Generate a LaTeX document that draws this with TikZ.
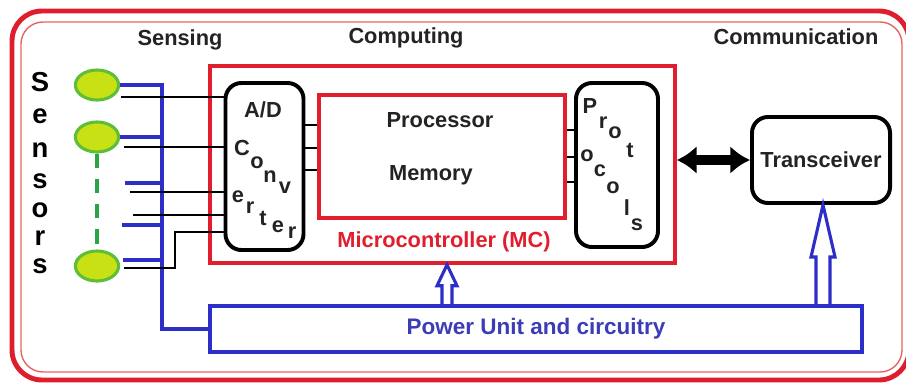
\documentclass[tikz,border=0pt]{standalone}
\usepackage{fontspec}
\setmainfont{Liberation Sans}
\usetikzlibrary{arrows.meta, positioning, shapes.geometric, calc}
\definecolor{framered}{RGB}{222,30,45}
\definecolor{thinred}{RGB}{232,100,100}
\definecolor{mcred}{RGB}{225,30,45}
\definecolor{pwrblue}{RGB}{45,45,200}
\definecolor{txtblue}{RGB}{60,60,185}
\definecolor{sensfill}{RGB}{200,225,20}
\definecolor{sensedge}{RGB}{95,190,55}
\definecolor{dashgreen}{RGB}{40,165,70}
\definecolor{ink}{RGB}{35,35,35}

% hollow power arrow: from, tip, shaft half width, head half width, head length
\newcommand{\feedarrow}[5]{%
  \draw[feed] ($(#1)+(-#3,0)$) -- ($(#2)+(-#3,#5)$) -- ($(#2)+(-#4,#5)$)
    -- (#2) -- ($(#2)+(#4,#5)$) -- ($(#2)+(#3,#5)$) -- ($(#1)+(#3,0)$);}

\begin{document}
\begin{tikzpicture}[
    x=0.025cm, y=-0.025cm,
    lbl/.style={font=\fontsize{15.5}{18}\selectfont\bfseries, text=ink, inner sep=0pt},
    bigletter/.style={font=\fontsize{19.5}{22}\selectfont\bfseries, text=black, inner sep=0pt},
    mcbox/.style={rectangle, draw=mcred, line width=2.5pt},
    rbox/.style={rectangle, draw=black, line width=2.8pt, rounded corners=0.4cm},
    pwrbox/.style={rectangle, draw=pwrblue, line width=2.6pt},
    sensor/.style={ellipse, draw=sensedge, fill=sensfill, line width=2.2pt,
                   minimum width=1.08cm, minimum height=0.75cm},
    bus/.style={draw=pwrblue, line width=2.6pt},
    sig/.style={draw=black, line width=1pt},
    link/.style={{Latex[length=14pt,width=20pt]}-{Latex[length=14pt,width=20pt]}, line width=7pt},
    feed/.style={draw=pwrblue, line width=2.2pt, line join=miter},
]
\useasboundingbox (0,0) rectangle (906,382);

% Frame
\draw[framered, line width=3.5pt, rounded corners=0.75cm] (12,11) rectangle (909,380);
\draw[thinred, line width=1pt, rounded corners=0.55cm] (21,22) rectangle (902,372);

% Headers
\node[lbl] (hsense) at (180,40) {Sensing};
\node[lbl] (hcomp) at (406,38) {Computing};
\node[lbl] (hcomm) at (796,37) {Communication};

% Sensors
\foreach \ch/\py [count=\i] in {S/82,e/116,n/150,s/181,o/210,r/238,s/266}
  \node[bigletter] (sl\i) at (40,\py) {\ch};
\node[sensor] (s1) at (97,85) {};
\node[sensor] (s2) at (97,137) {};
\node[sensor] (s3) at (97,266) {};
\draw[dashgreen, line width=2.6pt, dash pattern=on 10pt off 8pt] (s2.south) -- (s3.north);

% Microcontroller
\node[mcbox, minimum width=11.625cm, minimum height=4.925cm] (mc) at (442.5,164.5) {};
\node[mcbox, minimum width=6.15cm, minimum height=3.075cm] (proc) at (442,156.5) {};
\node[lbl] (ptext) at (440,120) {Processor};
\node[lbl] (mtext) at (431,175) {Memory};
\node[lbl, text=mcred] (mclabel) at (444,242) {Microcontroller (MC)};

% A/D converter
\node[rbox, minimum width=1.95cm, minimum height=4.175cm] (adc) at (264.5,166.5) {};
\node[lbl] (adtext) at (263,110) {A/D};
\foreach \ch/\px/\py [count=\i] in {C/242/148,o/257/163,n/270/177,v/285/188,
    e/238/197,r/250/208,t/263/218,e/278/227,r/292/233}
  \node[lbl] (cv\i) at (\px,\py) {\ch};

% Protocols
\node[rbox, minimum width=2.05cm, minimum height=4.1cm] (proto) at (617,165) {};
\foreach \ch/\px/\py [count=\i] in {P/590/106,r/603/123,o/615/133,t/630/150,
    o/587/156,c/600/171,o/613/188,l/627/208,s/637/225}
  \node[lbl] (pr\i) at (\px,\py) {\ch};

% Internal links
\foreach \py in {125,148,170}
  \draw[sig] (adc.east |- 0,\py) -- (proc.west |- 0,\py);
\foreach \py in {130,157,182}
  \draw[sig] (proc.east |- 0,\py) -- (proto.west |- 0,\py);

% Communication
\node[rbox, lbl, minimum width=3.45cm, minimum height=2.15cm] (trx) at (821,160) {Transceiver};
\draw[link] (mc.east |- trx.west) -- (trx.west);

% Power unit
\node[pwrbox, font=\fontsize{16}{19}\selectfont\bfseries, text=txtblue,
      minimum width=16.3cm, minimum height=1.15cm] (power) at (536,329) {Power Unit and circuitry};
\coordinate (mcfeed) at (power.north -| 447,0);
\coordinate (mctip) at (mc.south -| mcfeed);
\feedarrow{mcfeed}{mctip}{5}{10}{21}
\coordinate (trxfeed) at (power.north -| 823,0);
\coordinate (trxtip) at (trx.south -| trxfeed);
\feedarrow{trxfeed}{trxtip}{7}{12}{52}

% Sensor wiring: power bus
\coordinate (busend) at (power.west -| 162,0);
\draw[bus] (s1.east) -| (busend) -- (power.west);
\draw[bus] (s2.east) -- (s2.east -| busend);
\coordinate (st1) at (125,183);
\coordinate (st2) at (122,225);
\draw[bus] (st1) -- (st1 -| busend);
\draw[bus] (st2) -- (st2 -| busend);
\draw[bus] ($(s3.east)+(3,-6)$) coordinate (b3) -- (b3 -| busend);

% Sensor wiring: signals
\draw[sig] ($(s1.east)+(1,12)$) coordinate (k1) -- (k1 -| adc.west);
\draw[sig] ($(s2.east)+(4,10)$) coordinate (k2) -- (k2 -| adc.west);
\coordinate (k3) at (130,192);
\coordinate (k4) at (133,215);
\draw[sig] (k3) -- (k3 -| adc.west);
\draw[sig] (k4) -- (k4 -| adc.west);
\draw[sig] ($(s3.east)+(4,2)$) -- ++(51,0) |- (adc.west |- 0,232);

\end{tikzpicture}
\end{document}
